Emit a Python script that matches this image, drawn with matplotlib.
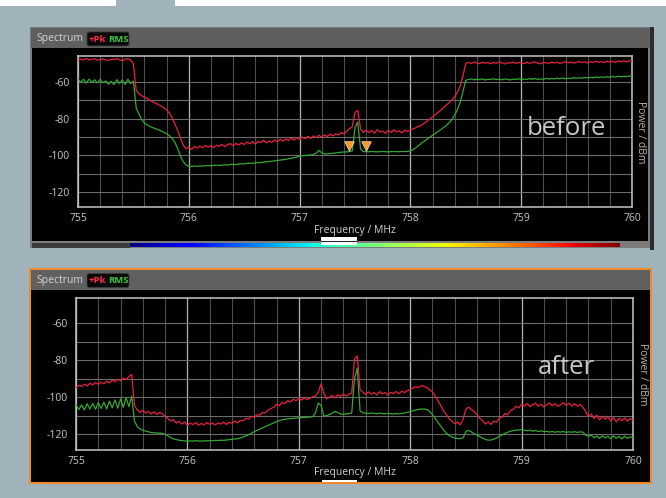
import numpy as np
import matplotlib
matplotlib.use("Agg")
import matplotlib.pyplot as plt
from matplotlib.patches import Rectangle, FancyBboxPatch

plt.rcParams["font.family"] = ["Open Sans", "DejaVu Sans"]
plt.rcParams["axes.unicode_minus"] = False

# ---------------------------------------------------------------- data
F_START, F_STOP = 755.0, 760.0          # MHz, 0.025 MHz per sample

pk_before = [
    -48.2, -47.5, -47.9, -47.2, -48.0, -47.6, -47.3, -48.1, -47.7, -47.4,
    -47.9, -48.3, -47.5, -47.8, -47.2, -47.9, -48.4, -47.6, -47.3, -48.0, -50.0,
    -64.5, -66.5, -67.5, -68.3, -69.0, -70.0, -70.8, -71.5, -72.3, -73.2,
    -74.0, -75.2, -77.0, -79.5, -83.0, -86.5, -90.5, -94.5, -96.5, -95.5,
    -96.8, -95.2, -96.0, -95.0, -95.8, -94.6, -95.5, -94.8, -95.9, -94.5,
    -95.1, -94.0, -95.3, -94.2, -93.6, -94.8, -93.5, -94.4, -93.2, -94.1,
    -92.8, -93.7, -92.5, -93.9, -92.4, -93.0, -91.8, -93.2, -92.2, -92.9,
    -91.6, -92.6, -91.2, -92.3, -91.0, -91.9, -90.6, -91.7, -90.4, -91.3,
    -90.1, -90.9, -89.6, -90.8, -89.4, -90.3, -89.1, -90.0, -88.8, -89.7,
    -88.5, -89.4, -88.2, -88.9, -87.6, -88.4, -86.8, -85.4, -84.5, -76.5,
    -75.5, -85.5, -87.5, -86.2, -87.6, -86.5, -87.9, -86.0, -87.3, -86.8,
    -88.0, -86.4, -87.5, -86.1, -87.2, -86.7, -87.8, -86.3, -87.0, -86.2,
    -85.6, -84.9, -84.1, -83.6, -82.3, -81.5, -80.2, -79.0, -77.9, -76.6,
    -75.4, -74.0, -72.5, -71.2, -69.8, -68.0, -65.5, -62.0, -56.5, -49.8,
    -49.3, -49.9, -49.1, -49.6, -50.0, -49.2, -49.7, -49.4, -50.1, -49.3,
    -49.8, -49.0, -49.5, -50.2, -49.4, -49.7, -49.1, -49.9, -49.3, -49.6,
    -50.0, -49.2, -49.8, -49.4, -49.0, -49.7, -50.1, -49.3, -49.5, -49.8,
    -49.1, -49.6, -49.2, -49.9, -49.4, -48.9, -49.5, -49.1, -49.7, -49.2,
    -48.8, -49.4, -49.0, -49.6, -48.9, -49.3, -48.7, -49.2, -48.9, -49.4,
    -48.6, -49.1, -48.7, -49.3, -48.5, -48.9, -48.4, -49.0, -48.5, -48.7,
]

rms_before = [
    -58.3, -60.2, -58.5, -60.6, -58.4, -60.1, -58.8, -60.5, -58.6, -60.4,
    -59.4, -61.2, -59.6, -61.4, -58.7, -60.8, -58.9, -61.3, -58.5, -60.9, -59.5,
    -74.0, -77.5, -80.5, -82.3, -83.4, -84.3, -84.9, -85.5, -86.1, -86.7,
    -87.4, -88.2, -89.3, -90.8, -93.0, -96.5, -100.5, -103.5, -105.3, -106.0,
    -106.1, -105.9, -106.0, -105.8, -105.9, -105.7, -105.6, -105.7, -105.5, -105.4,
    -105.5, -105.3, -105.2, -105.3, -105.0, -104.9, -105.0, -104.8, -104.6, -104.7,
    -104.4, -104.3, -104.4, -104.1, -103.9, -104.0, -103.7, -103.5, -103.4, -103.2,
    -103.0, -102.8, -102.6, -102.4, -102.2, -101.9, -101.6, -101.3, -101.0, -100.4,
    -100.2, -100.1, -99.9, -99.8, -99.6, -98.8, -97.3, -98.6, -99.3, -99.2,
    -99.0, -98.9, -98.7, -98.5, -98.3, -98.2, -98.1, -98.0, -97.6, -85.0,
    -81.8, -96.5, -98.0, -98.0, -98.1, -97.9, -98.0, -98.1, -98.0, -97.9,
    -98.0, -98.1, -98.0, -97.9, -98.0, -98.0, -97.9, -98.0, -97.8, -97.6,
    -96.8, -95.8, -94.6, -93.4, -92.3, -91.2, -90.1, -89.0, -88.0, -87.0,
    -85.9, -84.8, -83.6, -82.2, -80.5, -78.0, -75.0, -71.0, -65.0, -59.0,
    -58.6, -58.3, -58.8, -58.4, -58.7, -58.3, -58.9, -58.5, -58.6, -58.2,
    -58.7, -58.4, -58.8, -58.3, -58.6, -58.9, -58.4, -58.6, -58.2, -58.7,
    -58.4, -58.6, -58.2, -58.5, -58.1, -58.6, -58.3, -58.5, -58.0, -58.4,
    -58.1, -58.3, -57.9, -58.2, -57.8, -58.3, -57.9, -58.1, -57.6, -58.0,
    -57.7, -57.9, -57.5, -57.8, -57.4, -57.7, -57.3, -57.6, -57.2, -57.5,
    -57.1, -57.4, -57.0, -57.3, -56.8, -57.2, -56.9, -57.1, -56.7, -57.0,
]

pk_after = [
    -95.0, -93.6, -94.3, -93.0, -93.9, -92.6, -93.4, -92.2, -93.1, -92.0,
    -92.8, -91.5, -92.3, -90.9, -91.7, -90.4, -91.2, -89.8, -90.5, -88.9, -87.8,
    -104.5, -107.0, -108.2, -107.3, -108.6, -107.8, -109.1, -108.0, -109.4, -108.3,
    -109.0, -110.5, -111.6, -112.9, -112.2, -114.0, -113.1, -114.6, -113.5, -115.3,
    -114.0, -114.9, -113.7, -115.2, -114.3, -115.0, -113.8, -114.7, -114.1, -115.1,
    -113.9, -114.6, -113.5, -114.8, -113.6, -114.2, -113.0, -113.9, -112.6, -112.8,
    -111.5, -111.9, -110.4, -110.9, -109.5, -109.8, -108.3, -108.6, -107.0, -106.2,
    -105.5, -104.0, -104.6, -102.8, -103.5, -101.9, -102.7, -101.2, -102.0, -100.8,
    -101.6, -100.4, -101.3, -100.6, -99.8, -99.3, -97.5, -93.0, -98.0, -101.0,
    -100.2, -99.1, -100.4, -98.8, -99.6, -98.3, -99.4, -98.5, -97.9, -79.5,
    -77.8, -96.0, -97.4, -98.6, -97.2, -98.4, -97.6, -98.8, -97.1, -98.3,
    -97.5, -98.9, -97.4, -98.1, -97.0, -98.2, -96.8, -97.6, -96.5, -95.8,
    -95.1, -94.4, -94.8, -93.9, -94.2, -94.9, -96.0, -97.3, -99.5, -102.0,
    -104.8, -107.5, -109.6, -111.8, -113.0, -114.4, -113.6, -115.0, -112.0, -106.5,
    -105.4, -106.8, -107.9, -109.6, -111.5, -112.8, -114.6, -113.5, -114.8, -112.9,
    -113.6, -111.4, -110.8, -108.9, -109.5, -107.2, -106.6, -105.0, -105.8, -103.9,
    -104.8, -103.5, -105.2, -104.1, -103.3, -104.9, -103.8, -105.4, -104.0, -103.2,
    -104.7, -103.6, -105.0, -104.2, -103.0, -104.5, -103.4, -104.8, -103.6, -104.9,
    -104.0, -105.5, -107.8, -110.5, -109.2, -111.6, -109.8, -112.4, -110.3, -112.0,
    -110.6, -112.9, -111.1, -113.4, -111.5, -112.8, -111.3, -113.0, -111.6, -112.4,
]

rms_after = [
    -104.0, -106.8, -104.2, -107.0, -103.6, -106.5, -103.4, -106.6, -103.0, -106.2,
    -102.8, -106.4, -102.2, -105.8, -101.6, -106.0, -101.0, -105.5, -100.4, -105.2, -99.5,
    -113.0, -116.0, -117.2, -117.9, -118.4, -118.8, -119.1, -119.3, -119.4, -119.5,
    -119.6, -120.1, -121.0, -121.9, -122.6, -123.0, -123.3, -123.5, -123.7, -123.8,
    -123.7, -123.8, -123.6, -123.7, -123.8, -123.6, -123.7, -123.5, -123.6, -123.4,
    -123.5, -123.3, -123.4, -123.2, -123.0, -122.9, -122.7, -122.5, -122.1, -121.6,
    -121.0, -120.3, -119.5, -118.7, -118.0, -117.3, -116.6, -115.9, -115.3, -114.6,
    -114.0, -113.3, -112.7, -112.3, -112.0, -111.8, -111.6, -111.5, -111.3, -111.2,
    -111.1, -111.0, -110.9, -110.8, -110.6, -108.5, -103.2, -104.5, -110.3, -110.0,
    -109.5, -108.6, -107.8, -108.3, -109.2, -109.4, -109.1, -108.9, -108.6, -90.0,
    -84.3, -107.5, -108.5, -108.7, -108.9, -108.6, -108.8, -109.0, -108.7, -108.9,
    -109.1, -108.8, -109.0, -109.2, -108.9, -109.1, -108.8, -108.6, -108.2, -107.8,
    -107.4, -107.0, -106.7, -106.5, -106.4, -106.8, -107.8, -109.5, -111.5, -113.7,
    -115.8, -117.8, -119.5, -120.8, -121.6, -122.1, -122.4, -122.5, -122.0, -118.6,
    -118.0, -118.9, -119.8, -120.6, -121.4, -122.2, -122.9, -123.3, -123.2, -122.8,
    -122.1, -121.2, -120.4, -119.6, -119.0, -118.5, -118.1, -117.9, -117.8, -117.5,
    -117.9, -118.2, -117.9, -118.4, -118.1, -118.6, -118.3, -118.7, -118.5, -118.9,
    -118.6, -119.0, -118.7, -118.9, -118.6, -119.1, -118.8, -119.0, -118.7, -119.1,
    -118.8, -119.0, -120.5, -121.2, -120.6, -122.0, -121.0, -122.3, -120.9, -122.1,
    -121.2, -122.5, -121.0, -122.2, -121.3, -122.6, -121.1, -122.3, -121.5, -122.0,
]

marker_freq = [757.445, 757.600]
marker_level = [-95.0, -95.0]

x_ticks = [755, 756, 757, 758, 759, 760]
y_ticks = [-120, -100, -80, -60]

for trace in (pk_before, rms_before, pk_after, rms_after):
    assert len(trace) == 201, len(trace)

# ---------------------------------------------------------------- figure
W, H = 666, 498
BG = "#a0b3bb"
fig = plt.figure(figsize=(W / 100, H / 100), dpi=100, facecolor=BG)


def fx(x):
    return x / W


def fy(y):
    return 1 - y / H


def rect(x0, y0, x1, y1, fc, z=-5):
    fig.add_artist(Rectangle((fx(x0), fy(y1)), (x1 - x0) / W, (y1 - y0) / H,
                             transform=fig.transFigure, facecolor=fc,
                             edgecolor="none", zorder=z))


def text(x, y, s, **kw):
    kw.setdefault("zorder", 5)
    fig.text(fx(x), fy(y), s, **kw)


# white strip along the very top
rect(0, 0, 116, 6, "white")
rect(175, 0, 666, 6, "white")

# ----- upper instrument window frame
rect(30, 27, 651, 248, "#7c7c7c")
rect(650, 27, 654, 250, "#2c2c2c")
rect(31, 28, 650, 48, "#5f5f5f")
rect(32, 48, 648, 241, "black")
rect(32, 243, 130, 248, "#3c3c3c")
rect(321, 237.5, 357, 245.5, "white", z=3)
rect(321, 240.8, 357, 242.0, "#222222", z=4)

# ----- lower instrument window frame (highlighted)
rect(29, 268, 652, 484, "#f08a24")
rect(31, 270, 650, 290, "#606060")
rect(31, 290, 650, 482, "black")
rect(322, 479.5, 357, 482, "white", z=3)

# header labels
for y_mid in (39, 280.5):
    text(36, y_mid, "Spectrum", color="#d4d4d4", fontsize=7.5,
         ha="left", va="center")
    fig.add_artist(FancyBboxPatch((fx(87), fy(y_mid + 7)), 42 / W, 14 / H,
                                  boxstyle="round,pad=0,rounding_size=0.004",
                                  transform=fig.transFigure, facecolor="#0a0a0a",
                                  edgecolor="#3a3a3a", linewidth=0.6, zorder=4))
    text(88.5, y_mid, "+Pk", color="#ff2a44", fontsize=6.8,
         fontweight="bold", ha="left", va="center")
    text(108.5, y_mid, "RMS", color="#3cc83c", fontsize=6.8,
         fontweight="bold", ha="left", va="center")

# rainbow colour strip below the upper window
cax = fig.add_axes([fx(130), fy(247.5), 490 / W, 4 / H])
cax.imshow(np.linspace(0, 1, 256)[None, :], aspect="auto", cmap="jet")
cax.set_axis_off()

# ---------------------------------------------------------------- plots
PK_COLOR = "#e8213f"
RMS_COLOR = "#34a834"


def spectrum_axes(x0, y0, x1, y1, ylim):
    ax = fig.add_axes([fx(x0), fy(y1), (x1 - x0) / W, (y1 - y0) / H])
    ax.set_facecolor("black")
    ax.set_xlim(F_START, F_STOP)
    ax.set_ylim(*ylim)
    ax.set_xticks(x_ticks)
    ax.set_xticklabels([str(t) for t in x_ticks])
    ax.set_xticks(np.arange(755.2, 760, 0.2), minor=True)
    ax.set_yticks(y_ticks)
    ax.set_yticklabels([str(t) for t in y_ticks])
    ax.set_yticks(np.arange(-120, -59, 10), minor=True)
    ax.grid(which="minor", axis="x", color="#4c4c4c", linewidth=0.8)
    ax.grid(which="major", axis="x", color="#b4b4b4", linewidth=0.9)
    ax.grid(which="both", axis="y", color="#6c6c6c", linewidth=0.8)
    ax.set_axisbelow(True)
    ax.tick_params(which="both", length=0, colors="#c8c8c8", labelsize=7.5)
    ax.tick_params(axis="x", pad=4)
    ax.tick_params(axis="y", pad=6)
    for sp in ax.spines.values():
        sp.set_color("#c4c4c4")
        sp.set_linewidth(1.1)
    return ax


def draw_traces(ax, pk, rms):
    freq = np.linspace(F_START, F_STOP, len(pk))
    ax.plot(freq, rms, color=RMS_COLOR, linewidth=0.9, zorder=3)
    ax.plot(freq, pk, color=PK_COLOR, linewidth=0.9, zorder=4)


ax_top = spectrum_axes(78, 56, 632, 207, (-128.2, -45.8))
draw_traces(ax_top, pk_before, rms_before)
ax_top.scatter(marker_freq, marker_level, marker="v", s=48, color="#f39a2a",
               edgecolors="#ffd9a0", linewidths=0.5, zorder=5)

ax_bot = spectrum_axes(76, 298, 633, 450, (-128.6, -46.5))
draw_traces(ax_bot, pk_after, rms_after)

# axis titles and annotations
text(354.5, 230, "Frequency / MHz", color="#d0d0d0", fontsize=7.5,
     ha="center", va="center")
text(354.5, 472, "Frequency / MHz", color="#d0d0d0", fontsize=7.5,
     ha="center", va="center")
text(641, 132, "Power / dBm", color="#b8b8b8", fontsize=7.5, rotation=270,
     ha="center", va="center")
text(642, 374, "Power / dBm", color="#b8b8b8", fontsize=7.5, rotation=270,
     ha="center", va="center")
text(566, 135, "before", color="#c8c8c8", fontsize=18.5,
     ha="center", va="baseline")
text(566, 374, "after", color="#c8c8c8", fontsize=18.5,
     ha="center", va="baseline")

fig.savefig("out.png", dpi=100, facecolor=BG)
